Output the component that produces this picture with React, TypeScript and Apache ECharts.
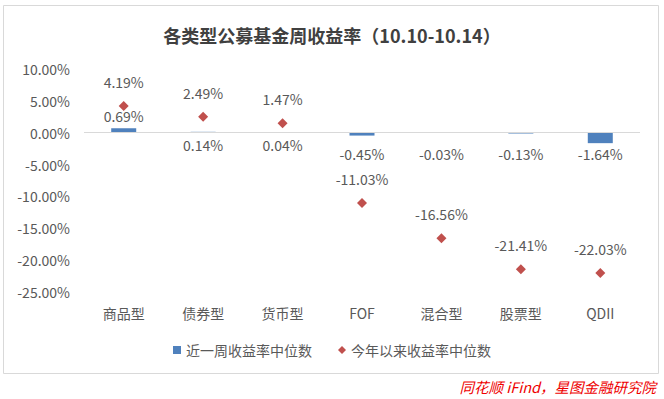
import React, { useEffect, useRef } from "react";
import * as echarts from "echarts";

const categories = ["商品型", "债券型", "货币型", "FOF", "混合型", "股票型", "QDII"];
const weekReturn = [0.69, 0.14, 0.04, -0.45, -0.03, -0.13, -1.64];
const ytdReturn = [4.19, 2.49, 1.47, -11.03, -16.56, -21.41, -22.03];
const yTicks = { min: -25, max: 10, interval: 5 };
const seriesNames = ["近一周收益率中位数", "今年以来收益率中位数"];
const titleText = "各类型公募基金周收益率（10.10-10.14）";
const sourceText = "同花顺 iFind，星图金融研究院";

const FONT = "'Noto Sans CJK SC', 'Noto Sans', sans-serif";
const TXT = "#595959";

export default function App() {
  const ref = useRef<HTMLDivElement>(null);
  useEffect(() => {
    if (!ref.current) return;
    const chart = echarts.init(ref.current, null, { renderer: "svg" });
    const barLabelPlace = (v: number, i: number) => {
      if (i === 0) return { position: "top", distance: 5 };
      const barPx = Math.abs(v) * 6.37;
      const d = Math.max(3, 14 - (v < 0 ? barPx : 0));
      return { position: "bottom", distance: v < 0 ? d : 5 };
    };
    chart.setOption({
      animation: false,
      textStyle: { fontFamily: FONT },
      title: {
        text: titleText,
        left: "center",
        top: 21,
        textStyle: { fontSize: 18, fontWeight: "bold", color: "#404040", fontFamily: FONT },
      },
      graphic: [
        {
          type: "rect",
          shape: { x: 3.5, y: 5.5, width: 655, height: 368 },
          style: { fill: "none", stroke: "#d9d9d9", lineWidth: 1 },
          silent: true,
        },
        {
          type: "text",
          right: 8,
          top: 379,
          style: {
            text: sourceText,
            fill: "#ee0000",
            fontSize: 14.5,
            fontStyle: "italic",
            fontFamily: FONT,
          },
        },
      ],
      legend: {
        bottom: 37,
        left: "center",
        itemGap: 26,
        itemWidth: 8,
        itemHeight: 8,
        textStyle: { fontSize: 14, color: TXT, fontFamily: FONT },
        data: [
          { name: seriesNames[0], icon: "rect" },
          { name: seriesNames[1], icon: "diamond" },
        ],
      },
      grid: { left: 84, right: 24, top: 69, bottom: 107, containLabel: false },
      xAxis: {
        type: "category",
        data: categories,
        axisLine: { show: false, onZero: false },
        axisTick: { show: false },
        axisLabel: { margin: 14, fontSize: 14, color: TXT, fontFamily: FONT },
      },
      yAxis: {
        type: "value",
        min: yTicks.min,
        max: yTicks.max,
        interval: yTicks.interval,
        splitLine: { show: false },
        axisLine: { show: false },
        axisTick: { show: false },
        axisLabel: {
          margin: 14,
          fontSize: 14,
          color: TXT,
          fontFamily: FONT,
          formatter: (v: number) => v.toFixed(2) + "%",
        },
      },
      series: [
        {
          name: seriesNames[0],
          type: "bar",
          barWidth: 25,
          itemStyle: { color: "#4F81BD" },
          data: weekReturn.map((v, i) => ({
            value: v,
            label: {
              show: true,
              ...barLabelPlace(v, i),
              fontSize: 14,
              color: TXT,
              fontFamily: FONT,
              formatter: (p: any) => p.value.toFixed(2) + "%",
            },
          })),
          markLine: {
            silent: true,
            symbol: "none",
            label: { show: false },
            lineStyle: { color: "#d9d9d9", width: 1, type: "solid" },
            data: [{ yAxis: 0 }],
          },
          z: 2,
        },
        {
          name: seriesNames[1],
          type: "scatter",
          symbol: "diamond",
          symbolSize: 10,
          itemStyle: { color: "#C0504D", opacity: 1 },
          data: ytdReturn.map((v) => ({ value: v })),
          label: {
            show: true,
            position: "top",
            distance: 12,
            fontSize: 14,
            color: TXT,
            opacity: 1,
            textBorderWidth: 0,
            fontFamily: FONT,
            formatter: (p: any) => Number(p.value).toFixed(2) + "%",
          },
          z: 3,
        },
      ],
    });
    return () => chart.dispose();
  }, []);
  return <div ref={ref} style={{ width: 664, height: 399, position: "absolute", left: 0, top: 0, background: "#fff" }} />;
}
